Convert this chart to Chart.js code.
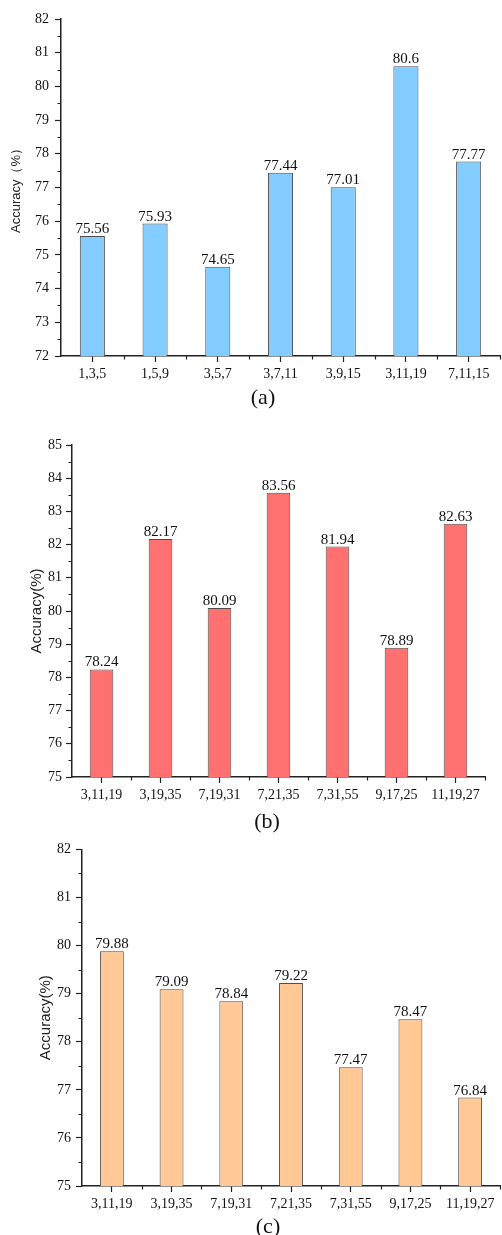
<!DOCTYPE html>
<html>
<head>
<meta charset="utf-8">
<title>Accuracy</title>
<script src="https://cdn.jsdelivr.net/npm/chart.js@4/dist/chart.umd.min.js"></script>
<style>
    html, body { margin: 0; padding: 0; background: #fff; }
    .panel { position: absolute; left: 0; }
</style>
</head>
<body>
<canvas id="chartA" class="panel" width="502" height="412" style="top:0px"></canvas>
<canvas id="chartB" class="panel" width="502" height="424" style="top:412px"></canvas>
<canvas id="chartC" class="panel" width="502" height="399" style="top:836px"></canvas>
<script>
// kernel size combinations
const kernelsA = ['1,3,5', '1,5,9', '3,5,7', '3,7,11', '3,9,15', '3,11,19', '7,11,15'];
const kernelsBC = ['3,11,19', '3,19,35', '7,19,31', '7,21,35', '7,31,55', '9,17,25', '11,19,27'];

// accuracy (%)
const accuracyA = [75.56, 75.93, 74.65, 77.44, 77.01, 80.6, 77.77];
const accuracyB = [78.24, 82.17, 80.09, 83.56, 81.94, 78.89, 82.63];
const accuracyC = [79.88, 79.09, 78.84, 79.22, 77.47, 78.47, 76.84];

// y axis ranges
const rangeA = [72, 82];
const rangeB = [75, 85];
const rangeC = [75, 82];

const SERIF = "'Liberation Serif', 'Times New Roman', serif";
const SANS = "'Liberation Sans', Arial, sans-serif";

// value text above every bar
const valueLabels = {
    id: 'valueLabels',
    afterDatasetsDraw(chart) {
        const ctx = chart.ctx;
        const meta = chart.getDatasetMeta(0);
        const values = chart.data.datasets[0].data;
        ctx.save();
        ctx.font = `15px ${SERIF}`;
        ctx.fillStyle = '#111';
        ctx.textAlign = 'center';
        ctx.textBaseline = 'alphabetic';
        meta.data.forEach((bar, i) => {
            ctx.fillText(String(values[i]), bar.x, bar.y - 3);
        });
        ctx.restore();
    }
};

// small ticks: half steps on y, category boundaries on x
const minorTicks = {
    id: 'minorTicks',
    afterDraw(chart) {
        const ctx = chart.ctx;
        const x = chart.scales.x;
        const y = chart.scales.y;
        const area = chart.chartArea;
        ctx.save();
        ctx.strokeStyle = '#222';
        ctx.lineWidth = 1.2;
        ctx.beginPath();
        for (let v = y.min + 0.5; v < y.max; v += 1) {
            const py = Math.round(y.getPixelForValue(v)) + 0.5;
            ctx.moveTo(area.left - 3.5, py);
            ctx.lineTo(area.left, py);
        }
        const n = chart.data.labels.length;
        for (let i = 1; i <= n; i++) {
            const px = i < n
                ? (x.getPixelForValue(i - 1) + x.getPixelForValue(i)) / 2
                : area.right;
            ctx.moveTo(Math.round(px) + 0.5, area.bottom);
            ctx.lineTo(Math.round(px) + 0.5, area.bottom + 3.5);
        }
        ctx.stroke();
        ctx.restore();
    }
};

// panel letter under the x axis
const caption = {
    id: 'caption',
    afterDraw(chart, args, opts) {
        const ctx = chart.ctx;
        ctx.save();
        ctx.font = `22px ${SERIF}`;
        ctx.fillStyle = '#111';
        ctx.textAlign = 'center';
        ctx.textBaseline = 'middle';
        ctx.fillText(opts.text, opts.x, opts.y);
        ctx.restore();
    }
};

function makeChart(id, labels, values, range, look) {
    const canvas = document.getElementById(id);
    return new Chart(canvas, {
        type: 'bar',
        data: {
            labels: labels,
            datasets: [{
                data: values,
                backgroundColor: look.color,
                borderColor: '#4d4d4d',
                borderWidth: 1,
                borderSkipped: 'bottom',
                categoryPercentage: 1.0,
                barPercentage: 0.4
            }]
        },
        options: {
            responsive: false,
            animation: false,
            devicePixelRatio: 1,
            layout: { padding: { left: 0, right: look.right, top: look.top, bottom: 0 } },
            plugins: {
                legend: { display: false },
                tooltip: { enabled: false },
                caption: { text: look.caption, x: look.capX, y: look.capY }
            },
            scales: {
                x: {
                    afterFit: scale => { scale.height = canvas.height - look.bottom; },
                    grid: {
                        offset: false,
                        drawOnChartArea: false,
                        drawTicks: true,
                        tickLength: 6,
                        tickWidth: 1.2,
                        tickColor: '#222'
                    },
                    border: { color: '#222', width: 1.5 },
                    ticks: {
                        color: '#111',
                        padding: 4,
                        maxRotation: 0,
                        autoSkip: false,
                        font: { family: SERIF, size: 14 }
                    }
                },
                y: {
                    min: range[0],
                    max: range[1],
                    afterFit: scale => { scale.width = look.left; },
                    grid: {
                        drawOnChartArea: false,
                        drawTicks: true,
                        tickLength: 6,
                        tickWidth: 1.2,
                        tickColor: '#222'
                    },
                    border: { color: '#222', width: 1.5 },
                    ticks: {
                        stepSize: 1,
                        color: '#111',
                        padding: look.tickPad,
                        font: { family: SERIF, size: 14 }
                    },
                    title: {
                        display: true,
                        text: look.yTitle,
                        color: '#222',
                        padding: { top: look.titlePad, bottom: 0 },
                        font: { family: SANS, size: look.titleSize }
                    }
                }
            }
        },
        plugins: [valueLabels, minorTicks, caption]
    });
}

document.addEventListener('DOMContentLoaded', () => {
    makeChart('chartA', kernelsA, accuracyA, rangeA, {
        color: '#82CCFF', left: 61, right: 2, top: 19, bottom: 356,
        tickPad: 6, yTitle: 'Accuracy（%）', titleSize: 13, titlePad: 9,
        caption: '(a)', capX: 263, capY: 398
    });
    makeChart('chartB', kernelsBC, accuracyB, rangeB, {
        color: '#FF7070', left: 72, right: 17, top: 33, bottom: 365,
        tickPad: 4, yTitle: 'Accuracy(%)', titleSize: 15, titlePad: 28,
        caption: '(b)', capX: 267, capY: 410
    });
    makeChart('chartC', kernelsBC, accuracyC, rangeC, {
        color: '#FFC895', left: 82, right: 2, top: 13, bottom: 350,
        tickPad: 5, yTitle: 'Accuracy(%)', titleSize: 15, titlePad: 37,
        caption: '(c)', capX: 268, capY: 391
    });
});
</script>
</body>
</html>
